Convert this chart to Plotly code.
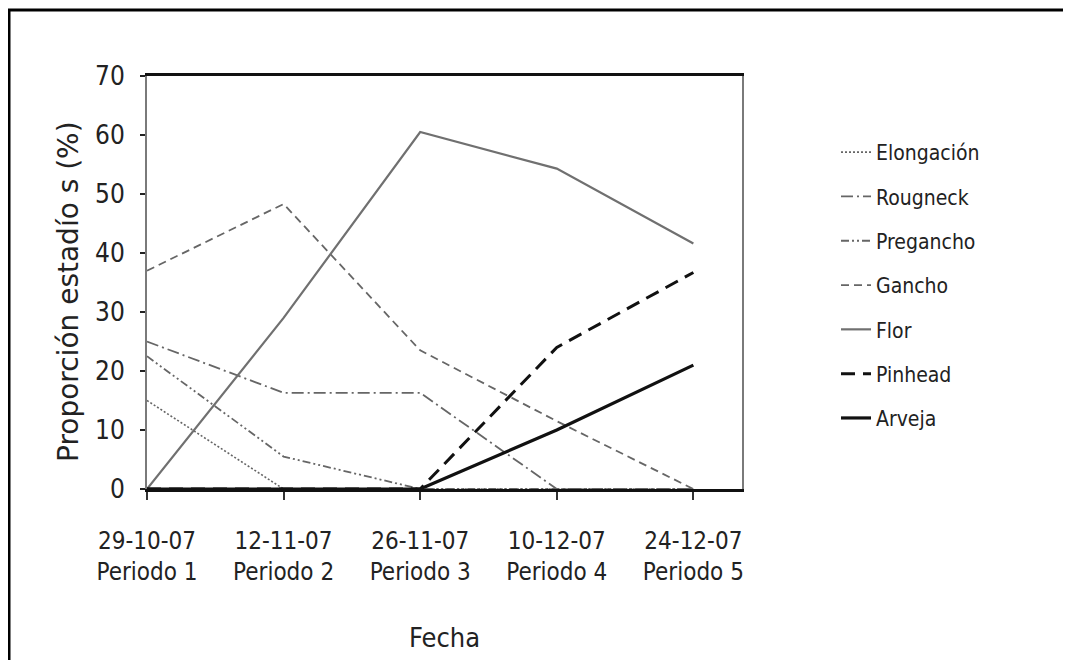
import plotly.graph_objects as go

# ---- data ----
fechas = ["29-10-07", "12-11-07", "26-11-07", "10-12-07", "24-12-07"]
periodos = ["Periodo 1", "Periodo 2", "Periodo 3", "Periodo 4", "Periodo 5"]
categorias = [f"{f}<br>{p}" for f, p in zip(fechas, periodos)]

elongacion = [15, 0, 0, 0, 0]
rougneck = [25, 16.3, 16.3, 0, 0]
pregancho = [22.5, 5.5, 0, 0, 0]
gancho = [37, 48.3, 23.5, 11.5, 0]
flor = [0, 29, 60.5, 54.3, 41.6]
pinhead = [0, 0, 0, 24, 36.7]
arveja = [0, 0, 0, 10, 21]

y_ticks = [0, 10, 20, 30, 40, 50, 60, 70]

# ---- styles ----
GRAY = "#666666"
BLACK = "#111111"
series = [
    ("Elongación", elongacion, dict(color=GRAY, width=1.6, dash="2px,2px")),
    ("Rougneck", rougneck, dict(color=GRAY, width=1.8, dash="12px,4px,2px,4px")),
    ("Pregancho", pregancho, dict(color=GRAY, width=1.8, dash="8px,3px,2px,3px,2px,3px")),
    ("Gancho", gancho, dict(color=GRAY, width=1.8, dash="8px,5px")),
    ("Flor", flor, dict(color="#707070", width=2.2, dash="solid")),
    ("Pinhead", pinhead, dict(color=BLACK, width=3, dash="14px,8px")),
    ("Arveja", arveja, dict(color=BLACK, width=3.2, dash="solid")),
]

NARROW = "DejaVu Sans Condensed, Liberation Sans Narrow, Roboto Condensed, DejaVu Sans, sans-serif"

fig = go.Figure()
for i, (name, vals, line) in enumerate(series):
    fig.add_trace(go.Scatter(
        x=categorias, y=vals, name=name, mode="lines", line=line,
        legendgroup=f"g{i}", cliponaxis=False,
    ))

# page body has an 8px default margin; work in viewport pixels
OFF = 8
W, H = 1063, 652
L, T = 147 - OFF, 76 - OFF
pw, ph = 595, 413
R = W - L - pw
B = H - T - ph


def px(x):
    return (x - OFF - L) / pw


def py(y):
    return (T + ph - (y - OFF)) / ph


fig.update_layout(
    width=W, height=H,
    margin=dict(l=L, r=R, t=T, b=B),
    paper_bgcolor="white", plot_bgcolor="white",
    showlegend=True,
    legend=dict(
        x=px(836), xanchor="left", y=py(132), yanchor="top",
        font=dict(family=NARROW, size=21, color="#222222"),
        tracegroupgap=14, bgcolor="rgba(0,0,0,0)",
    ),
    xaxis=dict(
        type="category", categoryorder="array", categoryarray=categorias,
        range=[0, 4.356], showgrid=False, zeroline=False,
        showline=True, linecolor=BLACK, linewidth=2.5, mirror=True,
        ticks="outside", ticklen=8, tickwidth=2, tickcolor="#333333",
        tickfont=dict(family=NARROW, size=24, color="#222222"),
        ticklabelstandoff=20,
    ),
    yaxis=dict(
        range=[0, 70], tickvals=y_ticks, showgrid=False, zeroline=False,
        showline=True, linecolor="#7a7a7a", linewidth=2, mirror=True,
        ticks="outside", ticklen=5, tickwidth=2, tickcolor="#222222",
        tickfont=dict(family=NARROW, size=26, color="#222222"),
        ticklabelstandoff=10,
    ),
    annotations=[
        dict(text="Fecha", xref="paper", yref="paper", x=px(444), y=py(637),
             xanchor="center", yanchor="middle", showarrow=False,
             font=dict(family=NARROW, size=27, color="#222222")),
        dict(text="Proporción estadío s (%)", xref="paper", yref="paper",
             x=px(68), y=py(292), xanchor="center", yanchor="middle",
             textangle=-90, showarrow=False,
             font=dict(family="DejaVu Sans, Verdana, sans-serif", size=28, color="#222222")),
    ],
    shapes=[
        dict(type="line", xref="paper", yref="paper", x0=px(8), x1=px(1080),
             y0=py(10), y1=py(10), line=dict(color="black", width=3)),
        dict(type="line", xref="paper", yref="paper", x0=px(9), x1=px(9),
             y0=py(9), y1=py(670), line=dict(color="black", width=3)),
    ],
)

fig.write_html("out.html")
